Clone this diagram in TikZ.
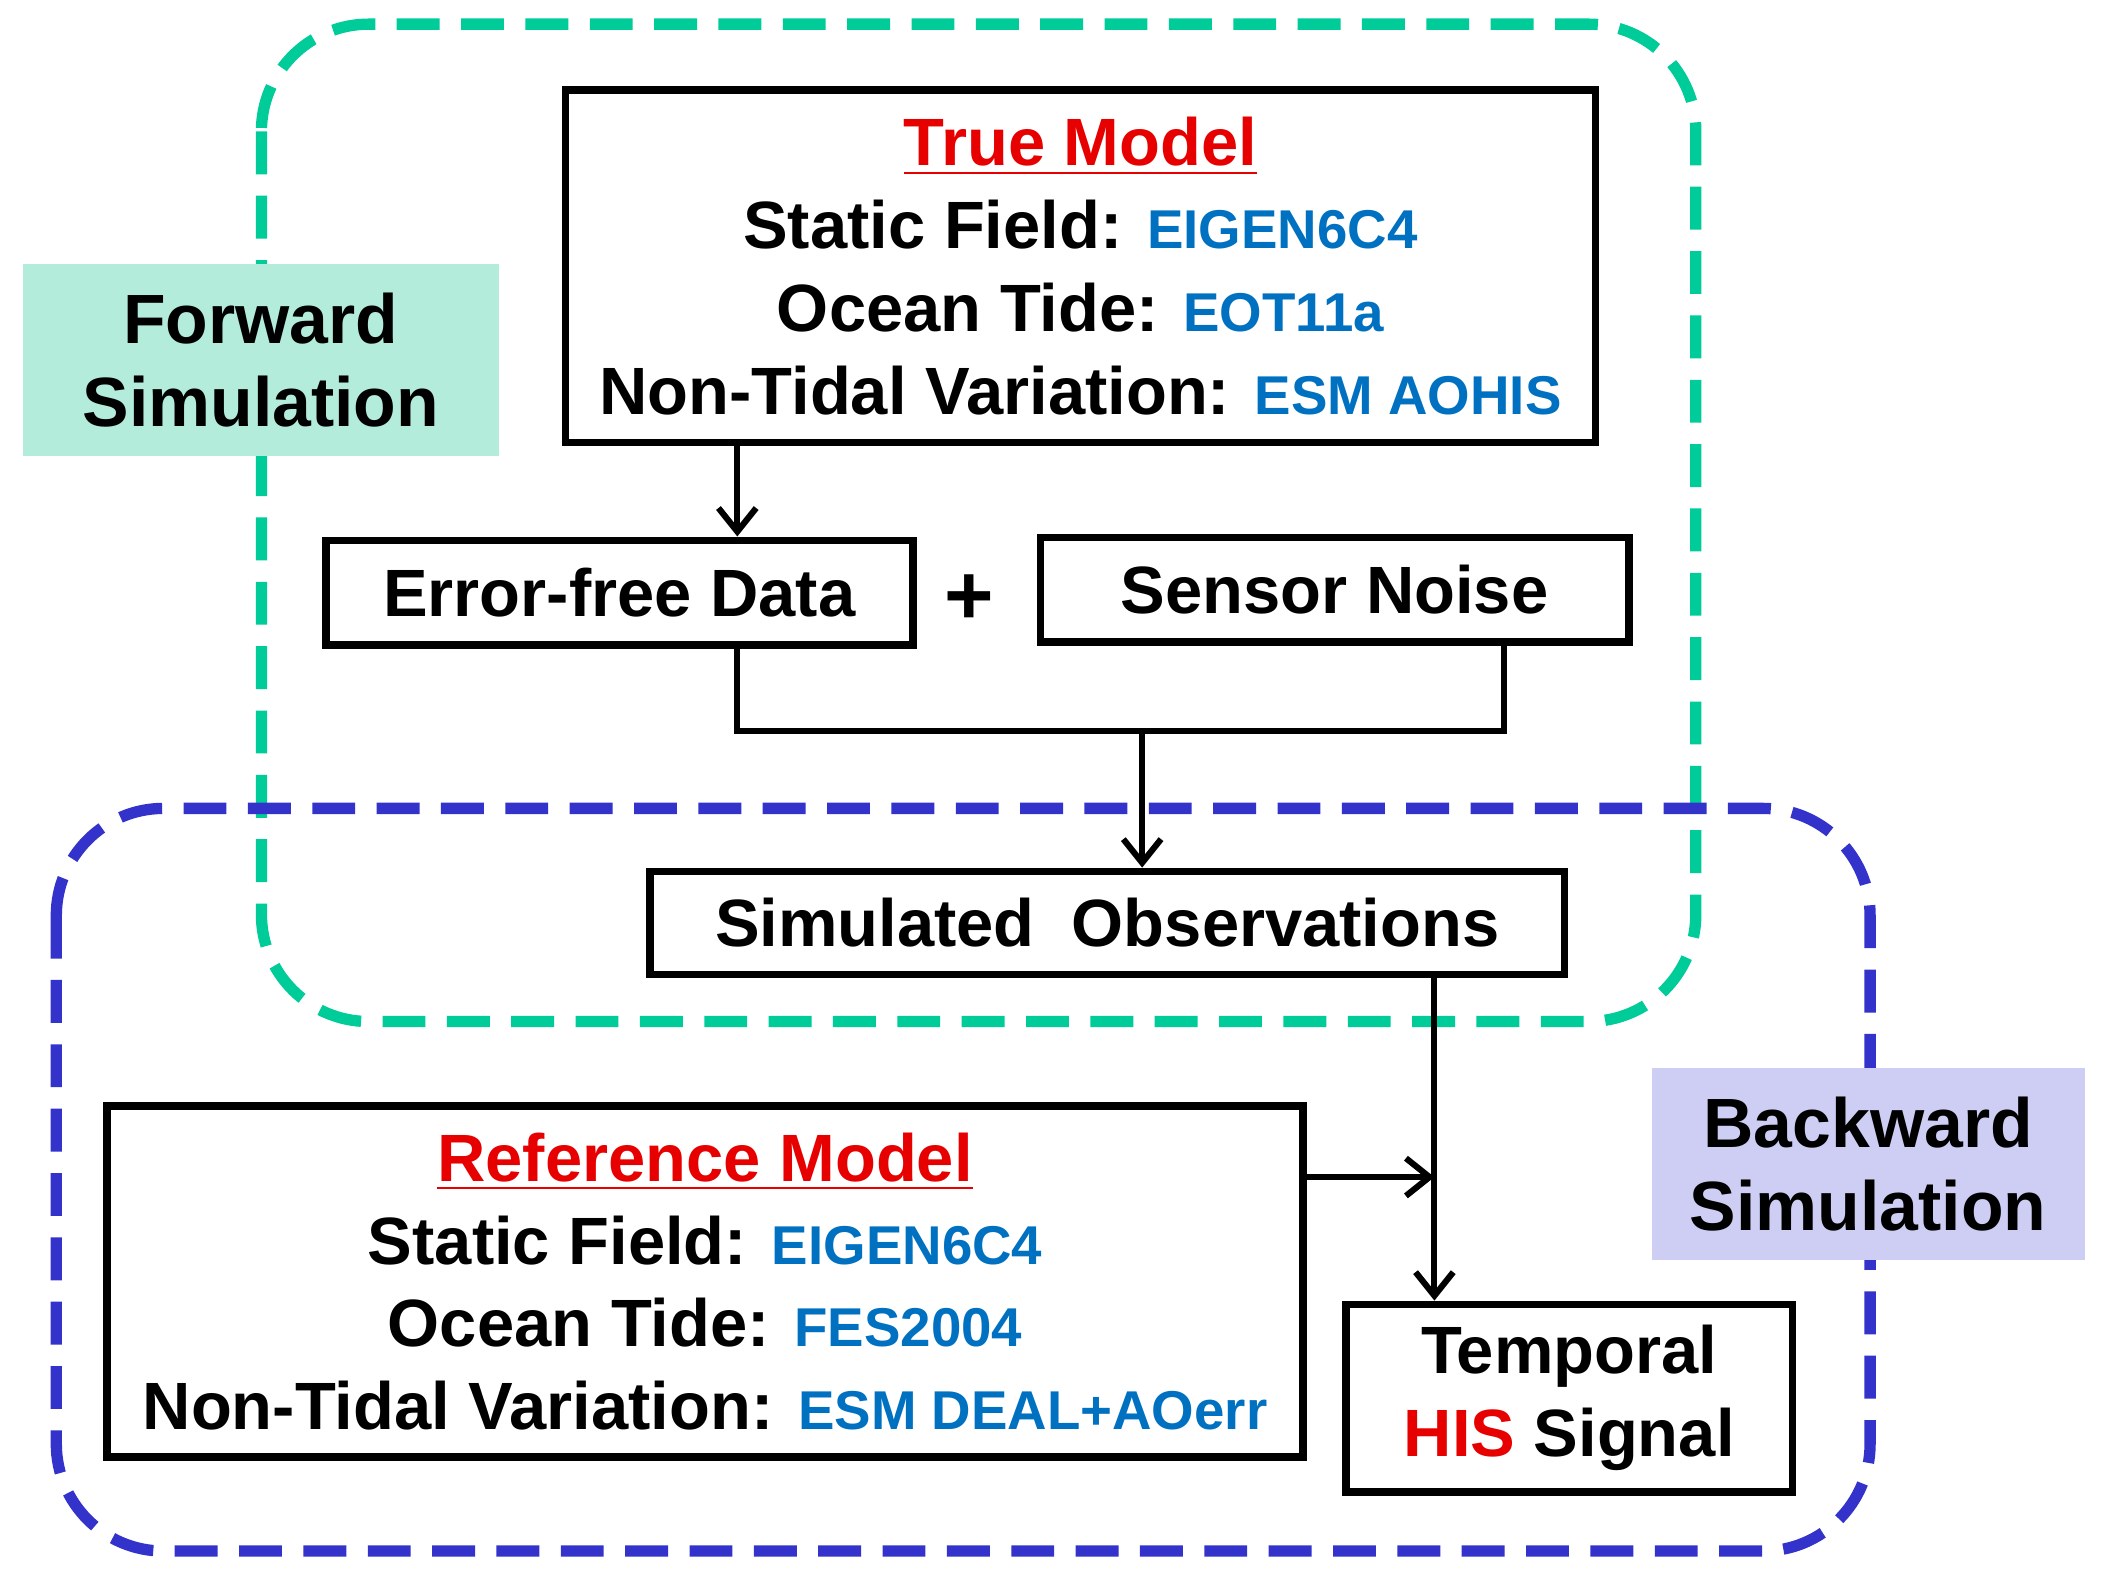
\documentclass[tikz,border=0pt]{standalone}
\usepackage{fontspec}
\setmainfont{Liberation Sans}
\usetikzlibrary{arrows.meta,calc}
\definecolor{fwd}{RGB}{0,204,153}
\definecolor{bwd}{RGB}{51,51,204}
\definecolor{fwdfill}{RGB}{180,236,220}
\definecolor{bwdfill}{RGB}{206,206,244}
\definecolor{ttl}{RGB}{230,0,0}
\definecolor{val}{RGB}{0,112,192}
\newcommand{\vl}[1]{{\fontsize{11.6}{13}\selectfont\textcolor{val}{#1}}}
\begin{document}
\begin{tikzpicture}[
  box/.style={draw, line width=1.6pt, inner sep=0pt, align=center, font=\bfseries\fontsize{14.2}{17.6}\selectfont},
  grp/.style={line width=2.4pt, rounded corners=0.8cm, dash pattern=on 0.32cm off 0.16cm},
  lbl/.style={inner sep=0pt, align=center, font=\bfseries\fontsize{14.8}{17.6}\selectfont},
  arr/.style={line width=1.3pt, -{Straight Barb[length=5pt,width=8pt]}},
  ln/.style={line width=1.3pt}]
\useasboundingbox (0,0) rectangle (15.68,-11.74);
% groups
\draw[grp, fwd] (1.95,-0.18) rectangle (12.65,-7.62);
\draw[grp, bwd] (0.42,-6.03) rectangle (13.95,-11.57);
\node[lbl, fill=fwdfill, minimum width=3.55cm, minimum height=1.43cm] (F) at (1.945,-2.685) {Forward\\Simulation};
\node[lbl, fill=bwdfill, minimum width=3.23cm, minimum height=1.43cm] (B) at (13.935,-8.685) {Backward\\Simulation};
% boxes
\node[box, minimum width=7.68cm, minimum height=2.63cm] (T) at (8.06,-1.985)
  {\textcolor{ttl}{\underline{True Model}}\\
   Static Field: \vl{EIGEN6C4}\\
   Ocean Tide: \vl{EOT11a}\\
   Non-Tidal Variation: \vl{ESM AOHIS}};
\node[box, minimum width=4.38cm, minimum height=0.78cm] (E) at (4.62,-4.42) {Error-free Data};
\node[lbl] (P) at (7.23,-4.47) {\fontsize{18}{18}\selectfont +};
\node[box, minimum width=4.39cm, minimum height=0.78cm] (S) at (9.955,-4.40) {Sensor Noise};
\node[box, minimum width=6.82cm, minimum height=0.77cm] (O) at (8.26,-6.885) {Simulated\ \ Observations};
\node[box, minimum width=8.92cm, minimum height=2.62cm] (R) at (5.26,-9.56)
  {\textcolor{ttl}{\underline{Reference Model}}\\
   Static Field: \vl{EIGEN6C4}\\
   Ocean Tide: \vl{FES2004}\\
   Non-Tidal Variation: \vl{ESM DEAL+AOerr}};
\node[box, minimum width=3.33cm, minimum height=1.40cm] (H) at (11.705,-10.43)
  {Temporal\\\textcolor{ttl}{HIS} Signal};
% connectors
\coordinate (j) at (8.52,-5.45);
\coordinate (m) at (10.70,-8.78);
\draw[arr] (T.south -| 5.5,0) -- (E.north -| 5.5,0);
\draw[ln] (E.south -| 5.5,0) |- (j) -| (S.south -| 11.22,0);
\draw[arr] (j) -- (O.north -| j);
\draw[arr] (O.south -| m) -- (H.north -| m);
\draw[arr] (R.east |- m) -- (m);
\end{tikzpicture}
\end{document}
